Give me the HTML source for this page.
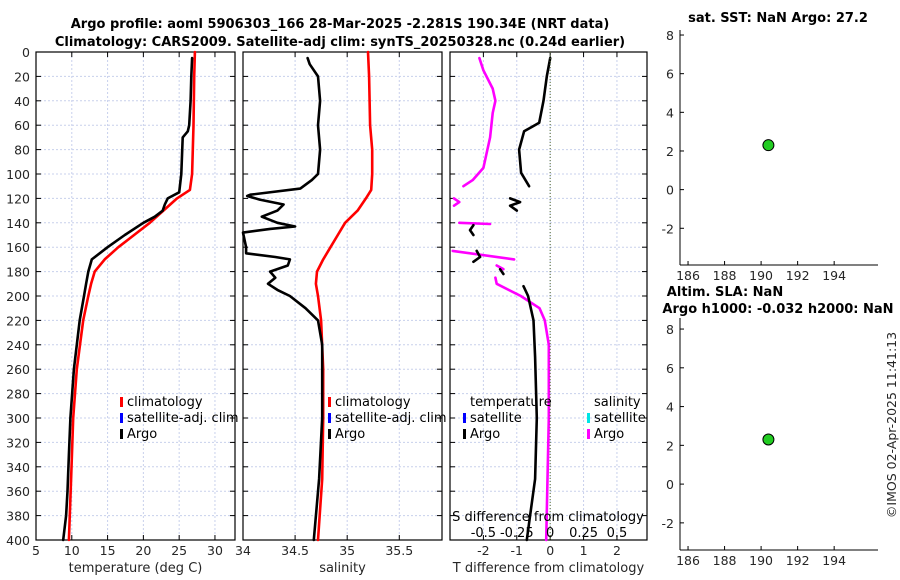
<!DOCTYPE html>
<html><head><meta charset="utf-8">
<style>
body{margin:0;background:#fff;}
svg{display:block;font-family:"DejaVu Sans","Liberation Sans",sans-serif;}
.tk{font-size:12.5px;fill:#262626;}
.ti{font-size:13px;font-weight:bold;fill:#000;}
.lg{font-size:13px;fill:#000;}
</style></head><body>
<svg id="c" width="900" height="580" viewBox="0 0 900 580"></svg>
<script>
const depthTicks=[0,20,40,60,80,100,120,140,160,180,200,220,240,260,280,300,320,340,360,380,400];
const tTicks=[5,10,15,20,25,30];
const sTicks=[34,34.5,35,35.5];
const dTicks=[-2,-1,0,1,2];
const dsTicks=[-0.5,-0.25,0,0.25,0.5];
const mapXTicks=[186,188,190,192,194];
const mapYTicks=[-2,0,2,4,6,8];
const climDepth=[0,20,60,80,100,113,120,130,140,150,160,170,180,190,200,220,260,300,350,400];
const climT=[27.2,27.1,27.0,26.9,26.8,26.5,24.7,22.8,20.9,18.7,16.5,14.6,13.2,12.7,12.3,11.6,10.7,10.2,9.9,9.6];
const argoDepth=[5,20,40,60,65,70,100,110,115,120,125,130,135,140,150,160,170,180,190,200,220,260,300,330,360,380,400];
const argoT=[26.8,26.7,26.6,26.4,26.2,25.5,25.3,25.1,25.0,23.4,23.0,22.7,21.6,20.0,17.4,15.0,12.8,12.3,12.0,11.7,11.1,10.3,9.8,9.6,9.4,9.2,8.8];
const climS=[35.2,35.21,35.22,35.24,35.24,35.23,35.18,35.1,34.98,34.91,34.84,34.77,34.71,34.70,34.72,34.75,34.77,34.77,34.76,34.72];
const argoSDepth=[5,10,20,40,60,80,100,105,112,117,118,121,125,130,135,140,143,145,148,160,165,168,170,175,180,185,190,195,200,210,220,240,300,350,400];
const argoS=[34.62,34.64,34.72,34.74,34.72,34.74,34.72,34.66,34.55,34.07,34.04,34.16,34.39,34.33,34.18,34.33,34.5,34.26,34.0,34.03,34.03,34.31,34.45,34.43,34.26,34.31,34.24,34.33,34.45,34.6,34.72,34.76,34.76,34.73,34.68];
const dTDepth=[5,20,40,58,65,80,99,110,null,120,123,126,130,null,142,146,150,null,163,168,172,null,178,182,null,192,200,220,250,300,350,380,400];
const dT=[0.0,-0.1,-0.2,-0.33,-0.78,-0.93,-0.87,-0.63,null,-1.2,-0.9,-1.2,-1.0,null,-2.3,-2.4,-2.3,null,-2.2,-2.1,-2.3,null,-1.5,-1.4,null,-0.8,-0.66,-0.5,-0.45,-0.4,-0.45,-0.6,-0.7];
const dSDepth=[5,15,30,40,50,60,70,80,95,105,110,null,120,123,126,null,140,141,null,163,170,null,175,178,null,185,190,200,210,220,240,300,400];
const dS=[-0.53,-0.5,-0.43,-0.41,-0.43,-0.44,-0.45,-0.47,-0.5,-0.58,-0.65,null,-0.72,-0.68,-0.72,null,-0.68,-0.45,null,-0.73,-0.27,null,-0.4,-0.35,null,-0.41,-0.4,-0.22,-0.08,-0.04,-0.01,-0.01,-0.03];
const mapLon=[190.4];
const mapLat=[2.3];

const svg=document.getElementById('c');
const NS='http://www.w3.org/2000/svg';
function el(tag,attrs,parent,text){const e=document.createElementNS(NS,tag);for(const k in attrs)e.setAttribute(k,attrs[k]);if(text!==undefined)e.textContent=text;(parent||svg).appendChild(e);return e;}
const Y0=52,Y1=540;
const yD=d=>Y0+(d/400)*(Y1-Y0);
function lin(d0,d1,p0,p1){return v=>p0+(v-d0)/(d1-d0)*(p1-p0);}
const panels=[
 {x0:36,x1:235,sx:lin(5,32.8,36,235),ticks:tTicks,lab:'temperature (deg C)',name:'temperature'},
 {x0:243,x1:442,sx:lin(34,35.91,243,442),ticks:sTicks,lab:'salinity',name:'salinity'},
 {x0:450,x1:647,sx:lin(-3,2.9,450,647),ticks:dTicks,lab:'T difference from climatology',name:'difference'}
];
panels.forEach((p,i)=>{
 const g=el('g',{},svg);
 
 
 p.ticks.forEach(t=>{const x=p.sx(t);
  el('line',{x1:x,x2:x,y1:Y0,y2:Y1,stroke:'#c8d0ec','stroke-dasharray':'2,2','stroke-width':1},g);
  el('line',{x1:x,x2:x,y1:Y1,y2:Y1-5,stroke:'#000'},g);
  el('line',{x1:x,x2:x,y1:Y0,y2:Y0+5,stroke:'#000'},g);
  el('text',{x:x,y:Y1+15,'text-anchor':'middle',class:'tk'},g,String(t));});
 depthTicks.forEach(d=>{const y=yD(d);
  el('line',{x1:p.x0,x2:p.x1,y1:y,y2:y,stroke:'#c8d0ec','stroke-dasharray':'2,2'},g);
  el('line',{x1:p.x0,x2:p.x0+5,y1:y,y2:y,stroke:'#000'},g);
  el('line',{x1:p.x1,x2:p.x1-5,y1:y,y2:y,stroke:'#000'},g);
  if(i===0)el('text',{x:30,y:y+5,'text-anchor':'end',class:'tk'},g,String(d));});
 el('rect',{x:p.x0,y:Y0,width:p.x1-p.x0,height:Y1-Y0,fill:'none',stroke:'#000','stroke-width':1.2},g);
 const t=el('text',{x:(p.x0+p.x1)/2,y:572,'text-anchor':'middle',class:'tk',style:'font-size:13px'},g,p.lab);
 
 
});
function line(xs,ys,sx,color,name,w){
 let d='',pen=false;
 for(let k=0;k<xs.length;k++){
  if(xs[k]===null||ys[k]===null){pen=false;continue;}
  d+=(pen?'L':'M')+sx(xs[k]).toFixed(1)+','+yD(ys[k]).toFixed(1);pen=true;}
 const p=el('path',{d:d,fill:'none',stroke:color,'stroke-width':w||2.6,'stroke-linejoin':'round','stroke-linecap':'round'});
 
 
}
line(climT,climDepth,panels[0].sx,'#ff0000','climatology-temperature-line');
line(argoT,argoDepth,panels[0].sx,'#000','argo-temperature-line');
line(climS,climDepth,panels[1].sx,'#ff0000','climatology-salinity-line');
line(argoS,argoSDepth,panels[1].sx,'#000','argo-salinity-line');
const sxS=lin(-0.75,0.725,450,647);
line(dS,dSDepth,sxS,'#ff00ff','argo-salinity-difference-line');
line(dT,dTDepth,panels[2].sx,'#000','argo-temperature-difference-line');
el('line',{x1:panels[2].sx(0),x2:panels[2].sx(0),y1:Y0,y2:Y1,stroke:'#556b2f','stroke-dasharray':'1,2'});
el('text',{x:548,y:521,'text-anchor':'middle',class:'lg'},svg,'S difference from climatology');
dsTicks.forEach(t=>el('text',{x:sxS(t),y:537,'text-anchor':'middle',class:'lg'},svg,String(t)));
function legend(x,y,items,name){
 const g=el('g',{});
 items.forEach((it,k)=>{const yy=y+k*16;
  if(it[1])el('rect',{x:x,y:yy-9,width:3,height:10,fill:it[1]},g);
  el('text',{x:x+7,y:yy,class:'lg'},g,it[0]);});
}
legend(120,406,[['climatology','#ff0000'],['satellite-adj. clim','#0000ff'],['Argo','#000']],'temperature-legend');
legend(328,406,[['climatology','#ff0000'],['satellite-adj. clim','#0000ff'],['Argo','#000']],'salinity-legend');
legend(463,406,[['temperature',null],['satellite','#0000ff'],['Argo','#000']],'temperature-diff-legend');
legend(587,406,[['salinity',null],['satellite','#00e5e5'],['Argo','#ff00ff']],'salinity-diff-legend');
el('text',{x:340,y:28,'text-anchor':'middle',class:'ti'},svg,'Argo profile: aoml 5906303_166 28-Mar-2025 -2.281S 190.34E (NRT data)');
el('text',{x:340,y:46,'text-anchor':'middle',class:'ti'},svg,'Climatology: CARS2009. Satellite-adj clim: synTS_20250328.nc (0.24d earlier)');
function mapPanel(top,bot,ymax,ymin,titles,name){
 const g=el('g',{});
 const sx=lin(185.56,196.4,680,878), sy=lin(ymin,ymax,bot,top);
 el('line',{x1:680,x2:680,y1:top,y2:bot,stroke:'#000'},g);
 el('line',{x1:680,x2:878,y1:bot,y2:bot,stroke:'#000'},g);
 mapXTicks.forEach(t=>{el('line',{x1:sx(t),x2:sx(t),y1:bot,y2:bot-4,stroke:'#000'},g);
  el('text',{x:sx(t),y:bot+15,'text-anchor':'middle',class:'tk'},g,String(t));});
 mapYTicks.forEach(t=>{el('line',{x1:680,x2:684,y1:sy(t),y2:sy(t),stroke:'#000'},g);
  el('text',{x:674,y:sy(t)+5,'text-anchor':'end',class:'tk'},g,String(t));});
 mapLon.forEach((lo,k)=>{const c=el('circle',{cx:sx(lo),cy:sy(mapLat[k]),r:5.5,fill:'#22cc22',stroke:'#000','stroke-width':1},g);
  });
 titles.forEach((t,k)=>el('text',{x:t[1],y:t[2],'text-anchor':'middle',class:'ti'},g,t[0]));
}
mapPanel(30,265,8.26,-3.9,[['sat. SST: NaN Argo: 27.2',778,22]],'sst-map-panel');
mapPanel(318,550,8.57,-3.4,[['Altim. SLA: NaN',725,296],['Argo h1000: -0.032 h2000: NaN',778,313]],'sla-map-panel');
const cr=el('text',{x:0,y:0,transform:'translate(896,425) rotate(-90)','text-anchor':'middle',class:'tk'},svg,'©IMOS 02-Apr-2025 11:41:13');


</script>
</body></html>
